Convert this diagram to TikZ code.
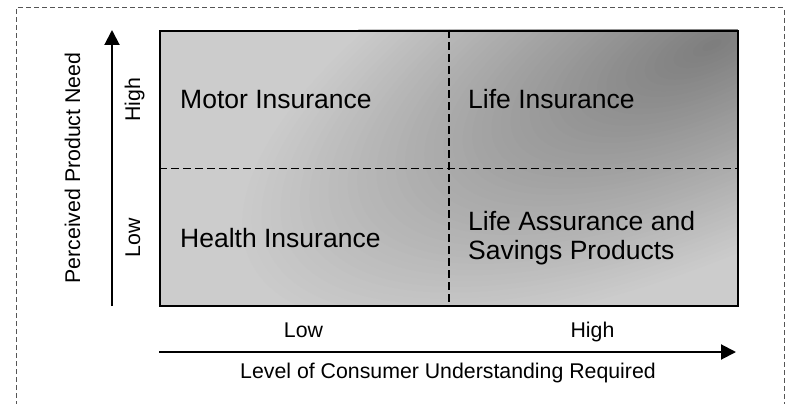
\documentclass[tikz,border=0pt]{standalone}
\usepackage{fontspec}
\setmainfont{Liberation Sans}
\usetikzlibrary{arrows.meta}
\definecolor{lightgr}{HTML}{CCCCCC}
\definecolor{framegr}{HTML}{555555}
\tikzset{
  outerframe/.style={draw=framegr, line width=1pt, dash pattern=on 5pt off 3pt},
  gridbox/.style={draw=black, line width=2pt, inner sep=0pt, minimum width=578pt, minimum height=275pt, anchor=north west},
  splitline/.style={draw=black, line width=1.6pt, dash pattern=on 8pt off 4pt},
  axisarrow/.style={draw=black, line width=2pt, -{Triangle[length=15pt,width=15pt]}},
  quadtext/.style={inner sep=0pt, anchor=base west, align=left, font=\fontsize{26.5}{29.5}\selectfont},
  axistext/.style={inner sep=0pt, anchor=base, font=\fontsize{21.3}{25}\selectfont},
}
\begin{document}
\begin{tikzpicture}[x=1pt, y=-1pt]
\useasboundingbox (0,0) rectangle (787,404);
% outer dashed frame (open at the bottom)
\coordinate (fbl) at (16,406);
\coordinate (ftl) at (16,8);
\coordinate (ftr) at (784,8);
\coordinate (fbr) at (784,406);
\draw[outerframe] (fbl) -- (ftl) -- (ftr) -- (fbr);
% shaded background
\begin{scope}
  \clip (159,30) rectangle (737,305);
  \fill[lightgr] (159,30) rectangle (737,305);
  \foreach \i in {0,...,50} {
    \pgfmathsetmacro\rr{1-\i/50}
    \pgfmathsetmacro\pp{20+31*(1-\rr)}
    \fill[black!\pp!white, rotate around={25:(712,45)}] (712,45) ellipse [x radius={520pt*\rr}, y radius={205pt*\rr}];
  }
\end{scope}
\node[gridbox] (box) at (159,30) {};
\draw[splitline] (box.north) -- (box.south);
\draw[splitline] (box.west) -- (box.east);
% quadrant texts
\node[quadtext] (motor) at (180,108.3) {Motor Insurance};
\node[quadtext] (life) at (468,108.3) {Life Insurance};
\node[quadtext] (health) at (180,247.3) {Health Insurance};
\node[quadtext, anchor=north west] (assur) at (468,211) {Life Assurance and\\Savings Products};
% axes
\coordinate (ybot) at (112,306);
\coordinate (ytop) at (112,30);
\draw[axisarrow] (ybot) -- (ytop);
\coordinate (xl) at (159,352);
\coordinate (xr) at (736,352);
\draw[axisarrow] (xl) -- (xr);
% axis labels
\node[axistext, rotate=90] (yname) at (80,168) {Perceived Product Need};
\node[axistext, rotate=90] (yhigh) at (140,100) {High};
\node[axistext, rotate=90] (ylow) at (140,238) {Low};
\node[axistext] (xlow) at (303.5,337) {Low};
\node[axistext] (xhigh) at (592.5,337) {High};
\node[axistext] (xname) at (448,378.3) {Level of Consumer Understanding Required};
\end{tikzpicture}
\end{document}
